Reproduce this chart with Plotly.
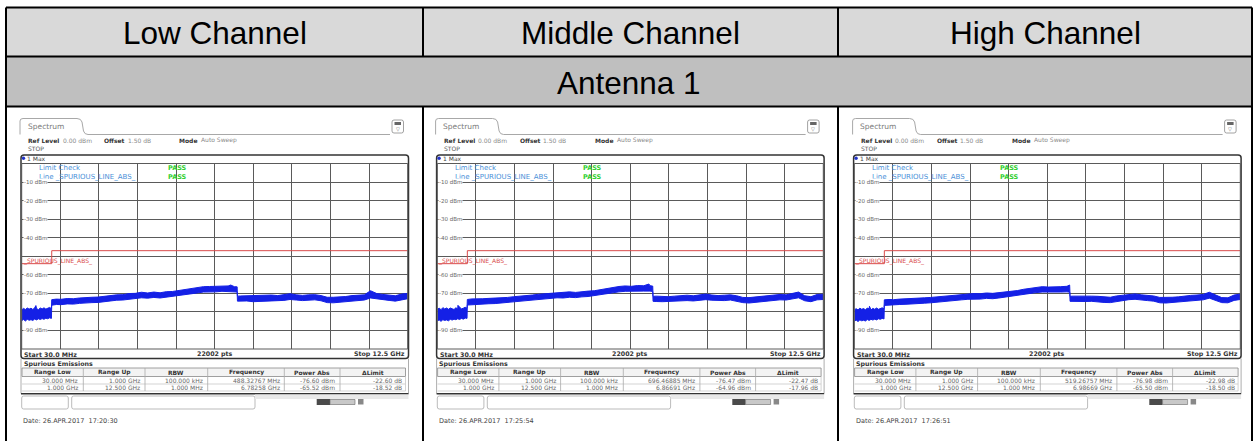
import plotly.graph_objects as go

W, H = 1258, 441

channel_titles = ["Low Channel", "Middle Channel", "High Channel"]
antenna_title = "Antenna 1"

start_ghz = 0.03
stop_ghz = 12.5
sweep_pts = 22002

# limit line _SPURIOUS_LINE_ABS_
limit_ghz = [0.03, 1.0, 1.0, 12.5]
limit_dbm = [-54.0, -54.0, -47.0, -47.0]
range_limit_dbm = [-54.0, -47.0]

range_low = ["30.000 MHz", "1.000 GHz"]
range_up = ["1.000 GHz", "12.500 GHz"]
rbw = ["100.000 kHz", "1.000 MHz"]

level_ticks = [-10, -20, -30, -40, -60, -70, -90]

# max-hold trace envelope (upper / lower edge of the noise band), dBm
freq_ghz = [
    0.03, 0.09, 0.15, 0.21, 0.27, 0.33, 0.39, 0.45, 0.51, 0.57, 0.63, 0.69, 0.75, 0.81, 0.87, 0.93, 0.99,
    1.0, 1.15, 1.3, 1.5, 1.7, 1.9, 2.1, 2.3, 2.5, 2.7, 2.9, 3.1, 3.3, 3.5, 3.7, 3.9, 4.1, 4.3, 4.5, 4.7,
    4.9, 5.1, 5.3, 5.5, 5.7, 5.9, 6.1, 6.3, 6.5, 6.7, 6.9, 6.99,
    7.0, 7.1, 7.3, 7.5, 7.7, 7.9, 8.1, 8.3, 8.5, 8.7, 8.9, 9.1, 9.3, 9.5, 9.7, 9.9, 10.1, 10.3, 10.5,
    10.7, 10.9, 11.1, 11.3, 11.5, 11.7, 11.9, 12.1, 12.3, 12.5,
]

low_upper = [
    -78.9, -78.1, -78.7, -77.9, -78.5, -78.0, -78.7, -77.8, -78.2, -78.8, -77.9, -78.4, -77.8, -78.5, -78.1, -77.6, -78.2,
    -73.4, -73.1, -73.2, -72.8, -72.9, -72.5, -72.5, -72.1, -72.0, -71.5, -71.3, -70.8, -70.7, -70.1, -70.0, -69.4,
    -69.8, -69.3, -69.7, -69.1, -69.0, -68.5, -68.1, -67.3, -67.0, -66.4, -66.3, -66.2, -66.1, -66.0, -66.4, -66.5,
    -71.5, -71.4, -71.3, -71.6, -71.4, -71.2, -70.9, -71.2, -70.8, -70.2, -70.8, -71.1, -70.8, -70.7, -71.2, -72.1,
    -72.1, -72.0, -71.7, -71.2, -70.9, -70.8, -68.6, -70.1, -70.6, -70.8, -71.3, -70.4, -70.0,
]
low_lower = [
    -84.7, -84.1, -84.9, -84.0, -84.5, -84.2, -84.6, -83.8, -84.3, -83.7, -84.1, -83.6, -84.0, -83.4, -83.7, -83.2, -83.5,
    -76.4, -76.0, -76.1, -75.7, -75.8, -75.4, -75.4, -75.0, -74.9, -74.4, -74.2, -73.7, -73.6, -73.0, -72.9, -72.4,
    -72.6, -72.2, -72.5, -72.0, -71.8, -71.4, -70.9, -70.2, -69.8, -69.3, -69.1, -69.2, -68.9, -69.0, -69.2, -69.3,
    -74.2, -74.4, -74.1, -74.5, -74.3, -74.0, -73.9, -74.0, -73.8, -73.3, -73.6, -73.9, -73.8, -73.5, -74.0, -75.0,
    -75.1, -74.8, -74.7, -74.0, -73.9, -73.6, -72.5, -73.0, -73.4, -73.8, -74.2, -73.4, -72.9,
]

mid_upper = [
    -78.6, -78.0, -78.8, -77.7, -78.4, -77.9, -78.6, -77.9, -78.3, -78.7, -77.8, -78.3, -77.6, -78.4, -78.0, -77.5, -78.0,
    -73.3, -73.0, -73.1, -72.9, -72.7, -72.6, -72.3, -72.2, -71.8, -71.6, -71.1, -70.9, -70.5, -70.2, -69.8, -69.5,
    -69.6, -69.2, -69.5, -69.0, -68.8, -68.6, -68.0, -67.2, -66.8, -66.3, -66.0, -66.2, -65.8, -65.9, -65.9, -66.1,
    -71.6, -71.5, -71.7, -71.8, -71.5, -71.3, -71.0, -71.3, -70.9, -70.4, -70.9, -71.2, -71.0, -70.8, -71.3, -72.2,
    -72.3, -72.0, -71.6, -71.0, -70.9, -70.6, -70.8, -70.2, -69.3, -71.3, -71.8, -70.6, -70.5,
]
mid_lower = [
    -84.9, -84.3, -85.1, -84.2, -84.6, -84.3, -84.8, -84.0, -84.4, -83.9, -84.2, -83.7, -84.1, -83.5, -83.9, -83.3, -83.5,
    -76.3, -76.0, -76.0, -75.8, -75.6, -75.5, -75.2, -75.1, -74.7, -74.5, -74.0, -73.8, -73.4, -73.1, -72.7, -72.4,
    -72.5, -72.1, -72.3, -71.9, -71.7, -71.4, -70.9, -70.1, -69.7, -69.2, -68.9, -69.0, -68.7, -68.8, -68.8, -69.0,
    -74.3, -74.4, -74.5, -74.6, -74.3, -74.1, -73.9, -74.1, -73.8, -73.4, -73.7, -74.0, -73.9, -73.6, -74.1, -75.0,
    -75.2, -74.9, -74.5, -73.9, -73.8, -73.5, -73.6, -73.1, -72.4, -74.0, -74.5, -73.5, -73.3,
]

high_upper = [
    -78.8, -78.3, -78.9, -78.0, -78.6, -78.2, -78.9, -77.9, -78.4, -78.9, -78.1, -78.6, -77.9, -78.6, -78.3, -77.8, -78.3,
    -73.5, -73.3, -73.4, -73.1, -73.0, -72.8, -72.7, -72.4, -72.2, -71.9, -71.6, -71.2, -71.0, -70.6, -70.3, -70.1,
    -70.2, -69.8, -70.0, -69.6, -69.5, -69.0, -68.5, -67.8, -67.2, -66.7, -66.4, -66.6, -66.3, -66.4, -66.2, -66.5,
    -71.6, -71.5, -71.4, -71.6, -71.5, -71.6, -72.0, -72.1, -71.4, -71.0, -70.6, -70.3, -70.8, -71.0, -71.4, -72.2,
    -72.3, -72.1, -71.9, -71.3, -71.1, -70.9, -70.6, -69.4, -70.8, -72.3, -72.4, -70.9, -70.4,
]
high_lower = [
    -85.0, -84.4, -85.2, -84.3, -84.8, -84.5, -84.9, -84.1, -84.6, -84.0, -84.4, -83.9, -84.3, -83.7, -84.0, -83.5, -83.8,
    -76.5, -76.2, -76.3, -76.0, -75.9, -75.7, -75.6, -75.3, -75.1, -74.8, -74.5, -74.1, -73.9, -73.5, -73.2, -73.0,
    -73.1, -72.7, -72.9, -72.5, -72.4, -71.9, -71.4, -70.7, -70.1, -69.6, -69.3, -69.5, -69.2, -69.3, -69.2, -69.4,
    -74.3, -74.4, -74.2, -74.4, -74.3, -74.4, -74.9, -75.0, -74.3, -73.8, -73.4, -73.2, -73.6, -73.9, -74.2, -75.1,
    -75.2, -75.0, -74.8, -74.2, -74.0, -73.8, -73.5, -72.6, -73.7, -75.0, -75.1, -73.8, -73.3,
]

# spurious emission peaks per range
low_peak_ghz = [0.48832767, 6.78258]
low_peak_dbm = [-76.60, -65.52]
mid_peak_ghz = [0.69646885, 6.86691]
mid_peak_dbm = [-76.47, -64.96]
high_peak_ghz = [0.51926757, 6.98669]
high_peak_dbm = [-76.98, -65.50]

sweep_dates = ["26.APR.2017  17:20:30", "26.APR.2017  17:25:54", "26.APR.2017  17:26:51"]

# ---------------------------------------------------------------- styling
SCREEN_FONT = "DejaVu Sans"
HEAD_FONT = "Liberation Sans, Arial"
BLUE = "#1420e6"
RED = "#d94a4a"
GRID = "#5a5a5a"

GL, GW = 21.7, 386.0          # diagram left edge / width (px) in the first column
GT, GB = 163.5, 349.0         # diagram top / bottom (px)
panel_dx = [0.0, 415.6, 832.6]


def X(x):
    return x / W


def Y(y):
    return 1 - y / H


shapes = []
annos = []


def seg(x0, y0, x1, y1, color, width=1.0):
    shapes.append(dict(type="line", xref="paper", yref="paper", x0=X(x0), y0=Y(y0),
                       x1=X(x1), y1=Y(y1), line=dict(color=color, width=width)))


def box(x0, y0, x1, y1, color=None, width=1.0, fill=None, layer="above"):
    s = dict(type="rect", xref="paper", yref="paper", x0=X(x0), y0=Y(y0), x1=X(x1), y1=Y(y1),
             layer=layer, line=dict(color=color if color else "rgba(0,0,0,0)",
                                    width=width if color else 0))
    if fill:
        s["fillcolor"] = fill
    shapes.append(s)


def rbox(x0, y0, x1, y1, r, color, width=1.0, fill=None):
    path = (f"M{X(x0 + r)},{Y(y0)} L{X(x1 - r)},{Y(y0)} Q{X(x1)},{Y(y0)} {X(x1)},{Y(y0 + r)} "
            f"L{X(x1)},{Y(y1 - r)} Q{X(x1)},{Y(y1)} {X(x1 - r)},{Y(y1)} "
            f"L{X(x0 + r)},{Y(y1)} Q{X(x0)},{Y(y1)} {X(x0)},{Y(y1 - r)} "
            f"L{X(x0)},{Y(y0 + r)} Q{X(x0)},{Y(y0)} {X(x0 + r)},{Y(y0)} Z")
    s = dict(type="path", xref="paper", yref="paper", path=path, line=dict(color=color, width=width))
    if fill:
        s["fillcolor"] = fill
    shapes.append(s)


def label(x, y, s, size=6.0, color="#444", anchor="left", bold=False, family=SCREEN_FONT,
          xref="paper", yref="paper", bg=None, xshift=0):
    if bold:
        s = f"<b>{s}</b>"
    a = dict(x=X(x) if xref == "paper" else x, y=Y(y) if yref == "paper" else y,
             xref=xref, yref=yref, text=s, showarrow=False, xanchor=anchor, yanchor="middle",
             font=dict(family=family, size=size, color=color), borderpad=0, xshift=xshift)
    if bg:
        a["bgcolor"] = bg
    annos.append(a)


fig = go.Figure()

# ---------------------------------------------------------------- table frame
box(6, 7.5, 1252, 56.5, fill="#D9D9D9", layer="below")
box(6, 56.5, 1252, 106.5, fill="#BFBFBF", layer="below")
seg(6, 7.5, 1252, 7.5, "black", 2)
seg(6, 7.5, 6, 450, "black", 2)
seg(1252, 7.5, 1252, 450, "black", 2)
seg(6, 56.5, 1252, 56.5, "black", 2)
seg(6, 106.5, 1252, 106.5, "black", 2)
for xv in (423, 838):
    seg(xv, 7.5, xv, 56.5, "black", 2)
    seg(xv, 106.5, xv, 450, "black", 2)

for cx, title in zip([214.5, 630.5, 1045.0], channel_titles):
    label(cx, 32.5, title, size=31.5, color="black", anchor="center", family=HEAD_FONT)
label(629, 82.5, antenna_title, size=31.5, color="black", anchor="center", family=HEAD_FONT)

col_sep = [83.3, 145.0, 207.7, 284.3, 340.0]
col_mid = [52.6, 114.2, 176.3, 246.0, 312.2, 372.5]
col_right = [79.0, 141.0, 203.5, 280.5, 336.0, 403.0]
col_head = ["Range Low", "Range Up", "RBW", "Frequency", "Power Abs", "\u0394Limit"]

traces = [
    (low_upper, low_lower, low_peak_ghz, low_peak_dbm),
    (mid_upper, mid_lower, mid_peak_ghz, mid_peak_dbm),
    (high_upper, high_lower, high_peak_ghz, high_peak_dbm),
]

for i, (upper, lower, pk_ghz, pk_dbm) in enumerate(traces):
    dx = panel_dx[i]
    sfx = "" if i == 0 else str(i + 1)
    gl = GL + dx

    fig.update_layout(**{
        f"xaxis{sfx}": dict(domain=[X(gl), X(gl + GW)], range=[start_ghz, stop_ghz], anchor=f"y{sfx}",
                            showgrid=True, gridcolor=GRID, gridwidth=1, tick0=start_ghz, dtick=1.247,
                            showticklabels=False, ticks="", zeroline=False, showline=False, fixedrange=True),
        f"yaxis{sfx}": dict(domain=[Y(GB), Y(GT)], range=[-100, 0], anchor=f"x{sfx}",
                            showgrid=True, gridcolor=GRID, gridwidth=1, tick0=0, dtick=10,
                            showticklabels=False, ticks="", zeroline=False, showline=False, fixedrange=True),
    })

    # trace band: upper edge (with the reported peaks) then lower edge back
    pts = sorted(list(zip(freq_ghz, upper)) + list(zip(pk_ghz, pk_dbm)))
    bx = [p[0] for p in pts] + freq_ghz[::-1]
    by = [p[1] for p in pts] + lower[::-1]
    fig.add_trace(go.Scatter(x=bx, y=by, mode="lines", fill="toself", fillcolor=BLUE,
                             line=dict(color=BLUE, width=1), xaxis=f"x{sfx}", yaxis=f"y{sfx}",
                             hoverinfo="skip", showlegend=False))
    fig.add_trace(go.Scatter(x=limit_ghz, y=limit_dbm, mode="lines", line=dict(color=RED, width=1),
                             xaxis=f"x{sfx}", yaxis=f"y{sfx}", hoverinfo="skip", showlegend=False))

    # ---- instrument header
    tab = (f"M{X(20 + dx)},{Y(134.5)} L{X(20 + dx)},{Y(121)} Q{X(20 + dx)},{Y(118.5)} {X(23 + dx)},{Y(118.5)} "
           f"L{X(77 + dx)},{Y(118.5)} Q{X(81 + dx)},{Y(118.5)} {X(82 + dx)},{Y(122)} "
           f"L{X(83.5 + dx)},{Y(131)} Q{X(84.5 + dx)},{Y(134.5)} {X(88 + dx)},{Y(134.5)} L{X(390 + dx)},{Y(134.5)}")
    shapes.append(dict(type="path", xref="paper", yref="paper", path=tab, line=dict(color="#a8a8a8", width=1)))
    label(26.5 + dx, 126.5, "Spectrum", size=7.5, color="#7a7a7a")
    rbox(392 + dx, 120, 403.5 + dx, 133, 2, "#8a8a8a", 0.8)
    box(394.5 + dx, 122, 401 + dx, 125, fill="#666")
    label(397.7 + dx, 129, "\u25bd", size=5, color="#666", anchor="center")

    label(27.3 + dx, 140, "Ref Level", size=6, color="#333", bold=True)
    label(61.7 + dx, 140, "0.00 dBm", size=6, color="#8a8a8a")
    label(103.3 + dx, 140, "Offset", size=6, color="#333", bold=True)
    label(126.7 + dx, 140, "1.50 dB", size=6, color="#8a8a8a")
    label(178.3 + dx, 140, "Mode", size=6, color="#333", bold=True)
    label(200 + dx, 140, "Auto Sweep", size=6, color="#8a8a8a")
    label(27.3 + dx, 148, "STOP", size=6, color="#555")

    # ---- diagram frame
    rbox(21 + dx, 155, 408.5 + dx, 358.5, 3, "#333", 1.5)
    box(gl, GT, gl + GW, GB, color=GRID, width=1)
    shapes.append(dict(type="circle", xref="paper", yref="paper", x0=X(21.8 + dx), y0=Y(156.6),
                       x1=X(25.2 + dx), y1=Y(160), fillcolor="#2233c8", line=dict(width=0)))
    label(26 + dx, 158.5, "1 Max", size=6, color="#444")

    label(38.3 + dx, 167.5, "Limit Check", size=7, color="#4a8fd8")
    label(166.7 + dx, 167.5, "PASS", size=6.5, color="#2fcf2f", bold=True)
    label(38.3 + dx, 176.5, "Line _SPURIOUS_LINE_ABS_", size=7, color="#4a8fd8")
    label(166.7 + dx, 176.5, "PASS", size=6.5, color="#2fcf2f", bold=True)

    for v in level_ticks:
        label(start_ghz, v, f"{v} dBm", size=5.5, color="#666", xref=f"x{sfx}", yref=f"y{sfx}",
              bg="white", xshift=1)
    label(start_ghz, -52.3, "_SPURIOUS_LINE_ABS_", size=6, color=RED, xref=f"x{sfx}", yref=f"y{sfx}")

    label(23 + dx, 354, f"Start {start_ghz * 1000:.1f} MHz", size=6.3, color="#333", bold=True)
    label(214.7 + dx, 354, f"{sweep_pts} pts", size=6.3, color="#333", bold=True, anchor="center")
    label(406 + dx, 354, f"Stop {stop_ghz:.1f} GHz", size=6.3, color="#333", bold=True, anchor="right")

    # ---- spurious emissions table
    seg(21 + dx, 358.5, 21 + dx, 393.5, "#999", 0.8)
    seg(408.5 + dx, 358.5, 408.5 + dx, 393.5, "#999", 0.8)
    seg(21 + dx, 393.8, 408.5 + dx, 393.8, "#333", 1.5)
    label(22.5 + dx, 364, "Spurious Emissions", size=6.3, color="#333", bold=True)
    box(22 + dx, 368, 405.5 + dx, 376.5, color="#888", width=0.8, fill="#f3f3f3")
    seg(22 + dx, 384, 405.5 + dx, 384, "#c8c8c8", 0.8)
    seg(22 + dx, 391, 405.5 + dx, 391, "#c8c8c8", 0.8)
    seg(405.5 + dx, 376.5, 405.5 + dx, 391, "#c8c8c8", 0.8)
    for xs in col_sep:
        seg(xs + dx, 368, xs + dx, 391, "#aaa", 0.8)
    for cx, h in zip(col_mid, col_head):
        label(cx + dx, 372.3, h, size=6, color="#333", bold=True, anchor="center")
    for r in range(2):
        f = pk_ghz[r]
        ftxt = f"{f * 1000:.5f} MHz" if f < 1 else f"{f:.5f} GHz"
        cells = [range_low[r], range_up[r], rbw[r], ftxt, f"{pk_dbm[r]:.2f} dBm",
                 f"{pk_dbm[r] - range_limit_dbm[r]:.2f} dB"]
        for xr, c in zip(col_right, cells):
            label(xr + dx, 380 + 7.5 * r, c, size=6, color="#666", anchor="right")

    # ---- soft keys / status bar
    rbox(21.7 + dx, 396, 68.3 + dx, 409, 2, "#aaa", 0.8)
    rbox(71.7 + dx, 396, 255 + dx, 409, 2, "#aaa", 0.8)
    box(255 + dx, 394.5, 408.5 + dx, 399, fill="#e9e9e9")
    box(316.7 + dx, 399, 330 + dx, 405, fill="#4a4a4a")
    box(330 + dx, 399.5, 355 + dx, 404.5, color="#666", width=0.6, fill="#c8c8c8")
    box(358 + dx, 399, 363.5 + dx, 404.5, fill="#888")

    label(22 + dx, 421, f"Date: {sweep_dates[i]}", size=6.5, color="#444")

fig.update_layout(
    width=W, height=H, autosize=False,
    margin=dict(l=0, r=0, t=0, b=0),
    paper_bgcolor="white", plot_bgcolor="white",
    showlegend=False,
    shapes=shapes, annotations=annos,
)

fig.write_html("out.html", config={"displayModeBar": False})
